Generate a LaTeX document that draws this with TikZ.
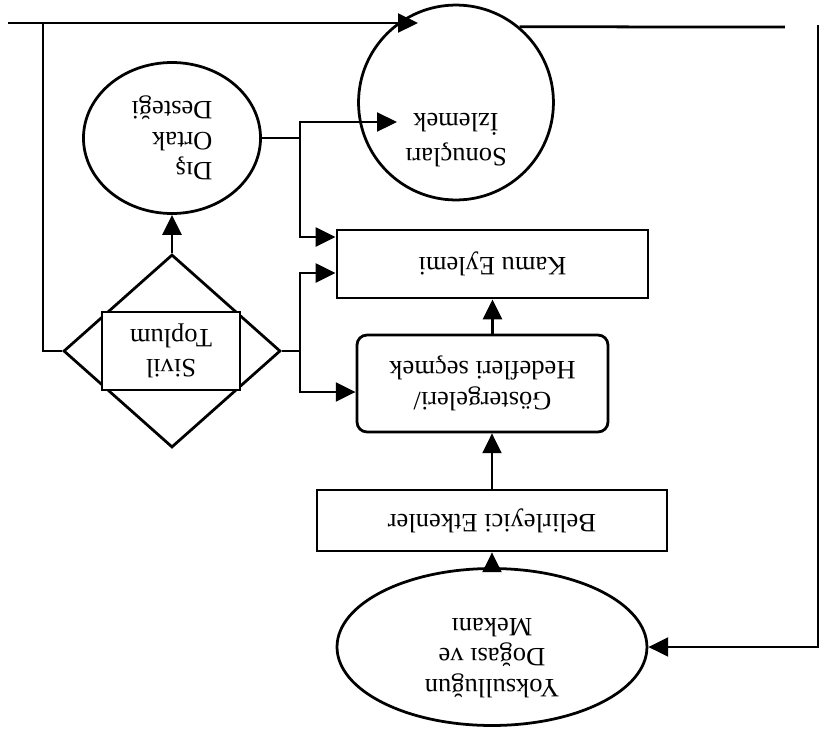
\documentclass[tikz,border=0pt]{standalone}
\usepackage{fontspec}
\setmainfont{Liberation Serif}
\usetikzlibrary{shapes.geometric,arrows.meta}

\begin{document}
\begin{tikzpicture}[x=0.453pt,y=0.453pt,rotate=180,transform shape,
   line width=1.25pt,
   font=\fontsize{12}{13.8}\selectfont,
   every node/.style={inner sep=0pt},
   arr/.style={-{Triangle[length=9pt,width=8.5pt]}},
   box/.style={draw,rectangle,align=center},
   oval/.style={draw,ellipse,align=center}]
   \useasboundingbox (0,0) rectangle (824,731);

   \node (Y) [draw,ellipse,minimum width=140.4pt,minimum height=71.1pt] at (332,647)
      {\raisebox{0.6pt}[0pt][0pt]{\begin{tabular}{@{}c@{}}Yoksulluğun\\Doğası ve\\Mekanı\end{tabular}}};
   \node (B) [box,minimum width=158.6pt,minimum height=27.6pt] at (332,520.5) {Belirleyici Etkenler};
   \node (G) [box,rounded corners=4.5pt,minimum width=113.7pt,minimum height=43.9pt] at (341.5,383.5) {Göstergeleri/\\Hedefleri seçmek};
   \node (K) [box,minimum width=140.9pt,minimum height=30.8pt] at (331.5,264) {Kamu Eylemi};
   \node (S) [draw,circle,minimum size=88.3pt,font=\fontsize{12}{16}\selectfont] at (368,102.5)
      {\raisebox{13pt}[0pt][0pt]{\begin{tabular}{@{}c@{}}Sonuçları\\İzlemek\end{tabular}}};
   \node (D) [draw,diamond,minimum width=98.3pt,minimum height=87.4pt] at (652,351) {};
   \node (T) [box,fill=white,minimum width=62.5pt,minimum height=35.3pt] at (653,351) {Sivil\\Toplum};
   \node (O) [oval,align=left,minimum width=80.2pt,minimum height=68.4pt] at (652,138) {Dış\\Ortak\\Desteği};

   \coordinate (s1) at (427,122);
   \coordinate (s2) at (406,23);

   \draw[arr] (Y) -- (B);
   \draw[arr] (B) -- (B |- G.north);
   \draw[arr] (K |- G.south) -- (K);
   \draw[arr] (D) -- (O);

   \draw (D.west) -- (524,351) coordinate (dv);
   \draw[arr] (dv) |- (K.east |- 0,273);
   \draw[arr] (dv) |- (G.east |- 0,392);

   \draw (O.west) -- (524,138) coordinate (ov);
   \draw[arr] (ov) |- (s1);
   \draw[arr] (ov) |- (K.east |- 0,237);

   \draw (816,23) -- (781,23);
   \draw[arr] (D.east) -| (781,23) -- (s2);
   \draw (S.230) -- (39,27);
   \draw[arr] (6,25) |- (Y.west);
\end{tikzpicture}
\end{document}
